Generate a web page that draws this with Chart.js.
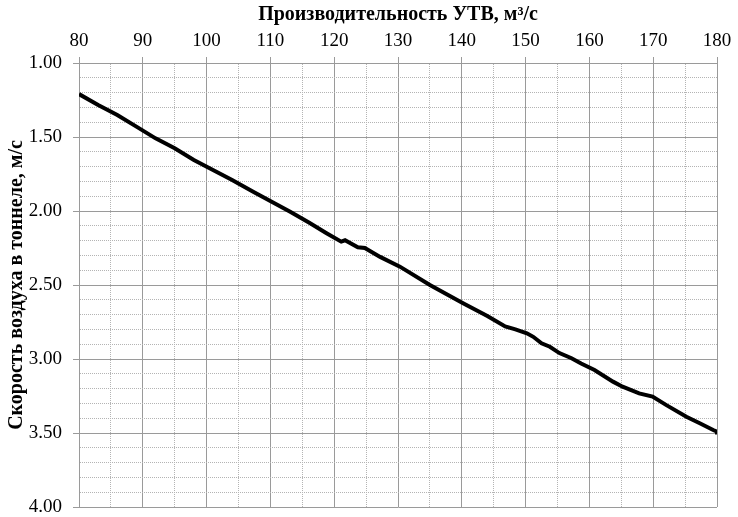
<!DOCTYPE html>
<html>
<head>
<meta charset="utf-8">
<script src="https://cdn.jsdelivr.net/npm/chart.js@4"></script>
<style>
  html, body { margin: 0; padding: 0; background: #fff; }
  #wrap { width: 738px; height: 517px; }
</style>
</head>
<body>
<div id="wrap"><canvas id="chart" width="738" height="517"></canvas></div>
<script>
/* ═══════════════════════════
   DATA
═══════════════════════════ */

// Производительность УТВ, м³/с
const flowRates = [80, 83, 86, 89, 92, 95, 98, 101, 104, 107.3, 110.2, 113.1, 116.1, 118.8, 121.1, 121.7,
  123.7, 124.8, 127.2, 130.3, 135, 140.2, 144, 146.8, 148.4, 150.2, 151.2, 152.5, 153.8, 155.3, 157.2,
  158.7, 160.8, 163.7, 165.2, 167.8, 169.9, 172, 175.2, 177.3, 179.4, 180, 180];

// Скорость воздуха в тоннеле, м/с
const airSpeeds = [1.21, 1.284, 1.351, 1.43, 1.509, 1.576, 1.655, 1.723, 1.79, 1.87, 1.937, 2.005, 2.08, 2.15, 2.207, 2.198,
  2.245, 2.25, 2.31, 2.376, 2.50, 2.624, 2.71, 2.78, 2.80, 2.826, 2.85, 2.894, 2.917, 2.96, 2.995,
  3.03, 3.074, 3.153, 3.187, 3.232, 3.254, 3.31, 3.39, 3.434, 3.48, 3.49, 3.51];

const xRange = [80, 180];
const yRange = [1, 4];

/* ═══════════════════════════
   CHART
═══════════════════════════ */

const MAJOR = '#9a9a9a';
const MINOR = '#b4b4b4';
const tickFont = { family: 'Liberation Serif', size: 19 };
const titleFont = { family: 'Liberation Serif', size: 20, weight: 'bold' };

const isMajorX = ctx => ctx.tick && Math.round(ctx.tick.value) % 10 === 0;
const isMajorY = ctx => ctx.tick && Math.round(ctx.tick.value * 10) % 5 === 0;

new Chart(document.getElementById('chart'), {
  type: 'scatter',
  data: {
    datasets: [{
      data: flowRates.map((x, i) => ({ x, y: airSpeeds[i] })),
      showLine: true,
      borderColor: '#000',
      borderWidth: 4,
      pointRadius: 0,
      tension: 0
    }]
  },
  options: {
    responsive: false,
    animation: false,
    layout: { padding: { left: 0, right: 21, top: 0, bottom: 0 } },
    plugins: { legend: { display: false }, tooltip: { enabled: false } },
    scales: {
      x: {
        type: 'linear',
        position: 'top',
        min: xRange[0],
        max: xRange[1],
        afterFit: s => { s.height = 63; },
        title: { display: true, text: 'Производительность УТВ, м³/с', color: '#000', font: titleFont, padding: { top: 3, bottom: 0 } },
        ticks: {
          stepSize: 5,
          autoSkip: false,
          maxRotation: 0,
          color: '#000',
          font: tickFont,
          padding: 5,
          callback: v => (Math.round(v) % 10 === 0 ? String(v) : '')
        },
        grid: {
          color: ctx => (isMajorX(ctx) ? MAJOR : MINOR),
          tickColor: ctx => (isMajorX(ctx) ? MAJOR : 'rgba(0,0,0,0)'),
          tickLength: 6,
          lineWidth: 1
        },
        border: { color: MAJOR, dash: ctx => (ctx.tick && !isMajorX(ctx) ? [1, 1] : []) }
      },
      y: {
        type: 'linear',
        reverse: true,
        min: yRange[0],
        max: yRange[1],
        afterFit: s => { s.width = 79; s.paddingTop = 0; s.paddingBottom = 10; },
        title: { display: true, text: 'Скорость воздуха в тоннеле, м/с', color: '#000', font: titleFont, padding: { top: 5, bottom: 0 } },
        ticks: {
          stepSize: 0.1,
          autoSkip: false,
          color: '#000',
          font: tickFont,
          padding: 11,
          callback: v => (Math.round(v * 10) % 5 === 0 ? v.toFixed(2) : '')
        },
        grid: {
          color: ctx => (isMajorY(ctx) ? MAJOR : MINOR),
          tickColor: ctx => (isMajorY(ctx) ? MAJOR : 'rgba(0,0,0,0)'),
          tickLength: 6,
          lineWidth: 1
        },
        border: { color: MAJOR, dash: ctx => (ctx.tick && !isMajorY(ctx) ? [1, 1] : []) }
      }
    }
  }
});
</script>
</body>
</html>
